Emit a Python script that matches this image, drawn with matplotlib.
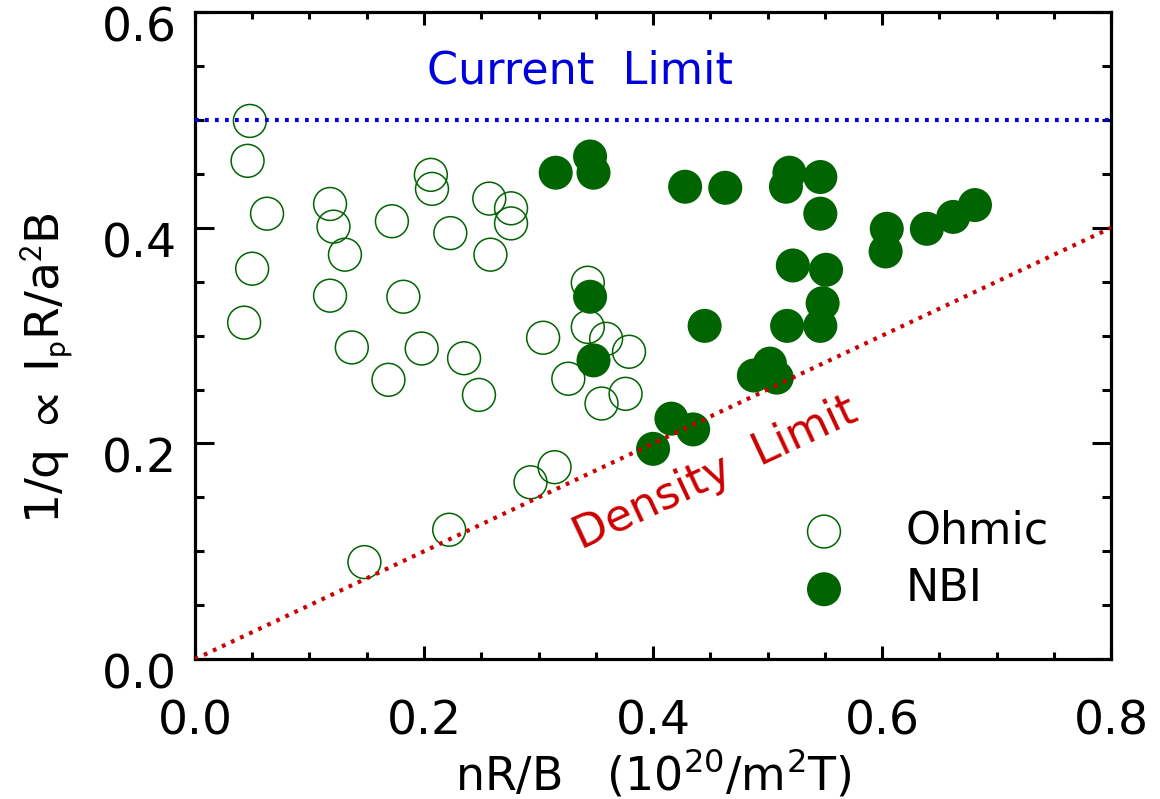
import matplotlib
matplotlib.use("Agg")
import matplotlib.pyplot as plt
from matplotlib.ticker import MultipleLocator, FormatStrFormatter
from matplotlib.transforms import ScaledTranslation

# ---- data ----
ohmic_x = [0.048, 0.046, 0.063, 0.118, 0.121, 0.131, 0.050, 0.118, 0.043, 0.172,
           0.206, 0.207, 0.223, 0.257, 0.276, 0.276, 0.258, 0.182, 0.137, 0.198,
           0.169, 0.235, 0.248, 0.304, 0.343, 0.343, 0.359, 0.379, 0.326, 0.355,
           0.376, 0.314, 0.293, 0.222, 0.148]
ohmic_y = [0.499, 0.462, 0.413, 0.422, 0.401, 0.375, 0.362, 0.337, 0.312, 0.406,
           0.449, 0.436, 0.395, 0.427, 0.418, 0.404, 0.375, 0.336, 0.289, 0.288,
           0.259, 0.279, 0.245, 0.298, 0.349, 0.308, 0.297, 0.285, 0.260, 0.237,
           0.246, 0.178, 0.164, 0.120, 0.090]

nbi_x = [0.315, 0.345, 0.348, 0.345, 0.348, 0.445, 0.416, 0.435, 0.400, 0.428,
         0.463, 0.519, 0.516, 0.546, 0.546, 0.604, 0.603, 0.639, 0.662, 0.681,
         0.522, 0.551, 0.548, 0.546, 0.517, 0.502, 0.488, 0.508]
nbi_y = [0.451, 0.466, 0.451, 0.336, 0.277, 0.309, 0.223, 0.213, 0.195, 0.438,
         0.437, 0.451, 0.438, 0.447, 0.413, 0.399, 0.378, 0.399, 0.410, 0.421,
         0.365, 0.361, 0.330, 0.309, 0.309, 0.274, 0.263, 0.261]

current_limit = 0.5
density_x = [0.0, 0.8]
density_y = [0.0, 0.4]

x_ticks = [0.0, 0.2, 0.4, 0.6, 0.8]
y_ticks = [0.0, 0.2, 0.4, 0.6]

plt.rcParams['font.family'] = ['DejaVu Sans']
plt.rcParams['mathtext.fontset'] = 'dejavusans'

green = '#006400'
fig = plt.figure(figsize=(11.6, 7.99), dpi=100)
ax = fig.add_axes([0.168, 0.175, 0.790, 0.810])

ax.scatter(ohmic_x, ohmic_y, s=560, facecolors='none', edgecolors=green,
           linewidths=1.1, zorder=2, label='Ohmic')
ax.scatter(nbi_x, nbi_y, s=600, facecolors=green, edgecolors='none',
           zorder=3, label='NBI')

ax.axhline(current_limit, color='#0000EE', lw=3.0, ls=(0, (0.9, 1.5)), zorder=4)
ax.plot(density_x, density_y, color='#CC0000', lw=3.0, ls=(0, (0.9, 1.5)), zorder=4)

ax.text(0.336, 0.545, 'Current  Limit', color='#0000DD', fontsize=32,
        ha='center', va='center')
ax.text(0.454, 0.172, 'Density  Limit', color='#CC0000', fontsize=32,
        ha='center', va='center', rotation=25, rotation_mode='anchor')

ax.set_xlim(0, 0.8)
ax.set_ylim(0, 0.6)
ax.set_xticks(x_ticks)
ax.set_yticks(y_ticks)
ax.xaxis.set_minor_locator(MultipleLocator(0.05))
ax.yaxis.set_minor_locator(MultipleLocator(0.05))
ax.xaxis.set_major_formatter(FormatStrFormatter('%.1f'))
ax.yaxis.set_major_formatter(FormatStrFormatter('%.1f'))

ax.tick_params(axis='both', which='both', direction='in', top=True, right=True,
               width=2.2, labelsize=34, colors='black')
ax.tick_params(axis='x', which='major', length=9.7, pad=29)
ax.tick_params(axis='x', which='minor', length=4.8)
ax.tick_params(axis='y', which='major', length=13.7, pad=13)
ax.tick_params(axis='y', which='minor', length=6.8)
for sp in ax.spines.values():
    sp.set_linewidth(2.3)

# IDL-style: y tick labels sit slightly below their ticks
offset = ScaledTranslation(0, -12 / 100, fig.dpi_scale_trans)
for lbl in ax.get_yticklabels():
    lbl.set_transform(lbl.get_transform() + offset)

ax.set_xlabel(r'nR/B   (10$^{20}$/m$^2$T)', fontsize=33, labelpad=2)
ax.set_ylabel(r'1/q $\propto$ I$_\mathrm{p}$R/a$^\mathrm{2}$B', fontsize=34,
              math_fontfamily='stixsans')
ax.yaxis.set_label_coords(-0.131, 0.45)

leg = ax.legend(loc='upper left', bbox_to_anchor=(0.638, 0.266), frameon=False,
                fontsize=32, handlelength=1.0, handletextpad=1.33,
                labelspacing=0.33, borderpad=0, scatterpoints=1)

fig.savefig('out.png', dpi=100)
